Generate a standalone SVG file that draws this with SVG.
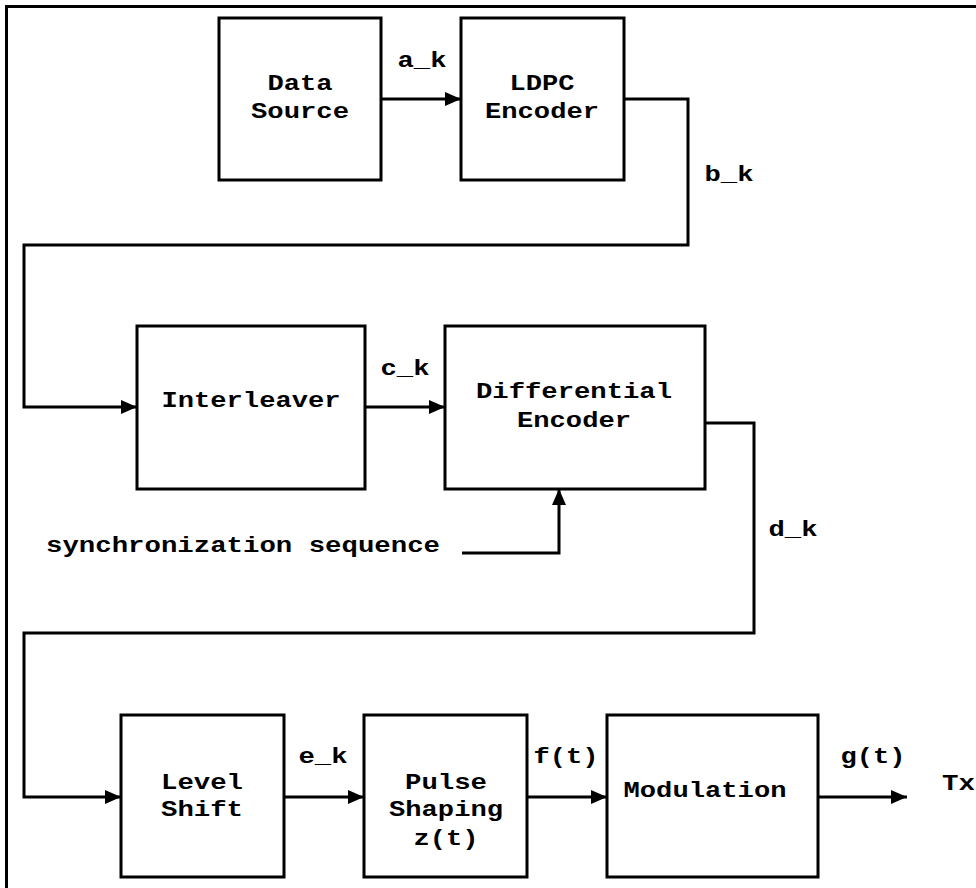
<svg xmlns="http://www.w3.org/2000/svg" width="976" height="888" viewBox="0 0 976 888">
  <style>
    .box { fill: #ffffff; stroke: #000000; stroke-width: 3; }
    .wire { fill: none; stroke: #000000; stroke-width: 3; }
    .lbl { font-family: "Liberation Mono", "Courier New", monospace; font-weight: bold; font-size: 22px; fill: #000000; text-anchor: middle; }
  </style>
  <defs>
    <marker id="arrow" markerUnits="userSpaceOnUse" markerWidth="16" markerHeight="14" refX="16" refY="7" orient="auto">
      <path d="M0,0 L16,7 L0,14 Z" fill="#000000"/>
    </marker>
  </defs>

  <rect width="976" height="888" fill="#ffffff"/>
  <!-- page frame -->
  <rect x="6.5" y="6.5" width="990" height="900" fill="none" stroke="#000000" stroke-width="3"/>

  <!-- connectors -->
  <g id="connectors">
    <path class="wire" d="M381,99 H461" marker-end="url(#arrow)"/>
    <path class="wire" d="M624,99 H688 V245 H24 V407 H137" marker-end="url(#arrow)"/>
    <path class="wire" d="M365,407 H445" marker-end="url(#arrow)"/>
    <path class="wire" d="M462,553 H559 V489" marker-end="url(#arrow)"/>
    <path class="wire" d="M705,423 H754 V633 H24 V797 H121" marker-end="url(#arrow)"/>
    <path class="wire" d="M284,797 H364" marker-end="url(#arrow)"/>
    <path class="wire" d="M527,797 H607" marker-end="url(#arrow)"/>
    <path class="wire" d="M818,797 H907" marker-end="url(#arrow)"/>

    <text class="lbl" x="422" y="67" textLength="49" lengthAdjust="spacingAndGlyphs">a_k</text>
    <text class="lbl" x="729" y="181" textLength="49" lengthAdjust="spacingAndGlyphs">b_k</text>
    <text class="lbl" x="405" y="375" textLength="49" lengthAdjust="spacingAndGlyphs">c_k</text>
    <text class="lbl" x="793" y="536" textLength="49" lengthAdjust="spacingAndGlyphs">d_k</text>
    <text class="lbl" x="323" y="763" textLength="49" lengthAdjust="spacingAndGlyphs">e_k</text>
    <text class="lbl" x="566" y="763" textLength="65" lengthAdjust="spacingAndGlyphs">f(t)</text>
    <text class="lbl" x="873" y="763" textLength="65" lengthAdjust="spacingAndGlyphs">g(t)</text>
    <text class="lbl" x="243" y="552" textLength="394" lengthAdjust="spacingAndGlyphs">synchronization sequence</text>
    <text class="lbl" x="942" y="790" style="text-anchor:start" textLength="33" lengthAdjust="spacingAndGlyphs">Tx</text>
  </g>

  <g id="data-source">
    <rect class="box" x="219" y="18" width="162" height="162"/>
    <text class="lbl" x="300" y="90" textLength="65" lengthAdjust="spacingAndGlyphs">Data</text>
    <text class="lbl" x="300" y="118" textLength="98" lengthAdjust="spacingAndGlyphs">Source</text>
  </g>

  <g id="ldpc-encoder">
    <rect class="box" x="461" y="18" width="163" height="162"/>
    <text class="lbl" x="542" y="90" textLength="65" lengthAdjust="spacingAndGlyphs">LDPC</text>
    <text class="lbl" x="542" y="118" textLength="114" lengthAdjust="spacingAndGlyphs">Encoder</text>
  </g>

  <g id="interleaver">
    <rect class="box" x="137" y="326" width="228" height="163"/>
    <text class="lbl" x="251" y="407" textLength="179" lengthAdjust="spacingAndGlyphs">Interleaver</text>
  </g>

  <g id="differential-encoder">
    <rect class="box" x="445" y="326" width="260" height="163"/>
    <text class="lbl" x="574" y="398" textLength="196" lengthAdjust="spacingAndGlyphs">Differential</text>
    <text class="lbl" x="574" y="427" textLength="114" lengthAdjust="spacingAndGlyphs">Encoder</text>
  </g>

  <g id="level-shift">
    <rect class="box" x="121" y="715" width="163" height="162"/>
    <text class="lbl" x="202" y="789" textLength="82" lengthAdjust="spacingAndGlyphs">Level</text>
    <text class="lbl" x="202" y="816" textLength="82" lengthAdjust="spacingAndGlyphs">Shift</text>
  </g>

  <g id="pulse-shaping">
    <rect class="box" x="364" y="715" width="163" height="162"/>
    <text class="lbl" x="446" y="789" textLength="82" lengthAdjust="spacingAndGlyphs">Pulse</text>
    <text class="lbl" x="446" y="816" textLength="114" lengthAdjust="spacingAndGlyphs">Shaping</text>
    <text class="lbl" x="446" y="845" textLength="65" lengthAdjust="spacingAndGlyphs">z(t)</text>
  </g>

  <g id="modulation">
    <rect class="box" x="607" y="715" width="211" height="162"/>
    <text class="lbl" x="705" y="797" textLength="163" lengthAdjust="spacingAndGlyphs">Modulation</text>
  </g>
</svg>
